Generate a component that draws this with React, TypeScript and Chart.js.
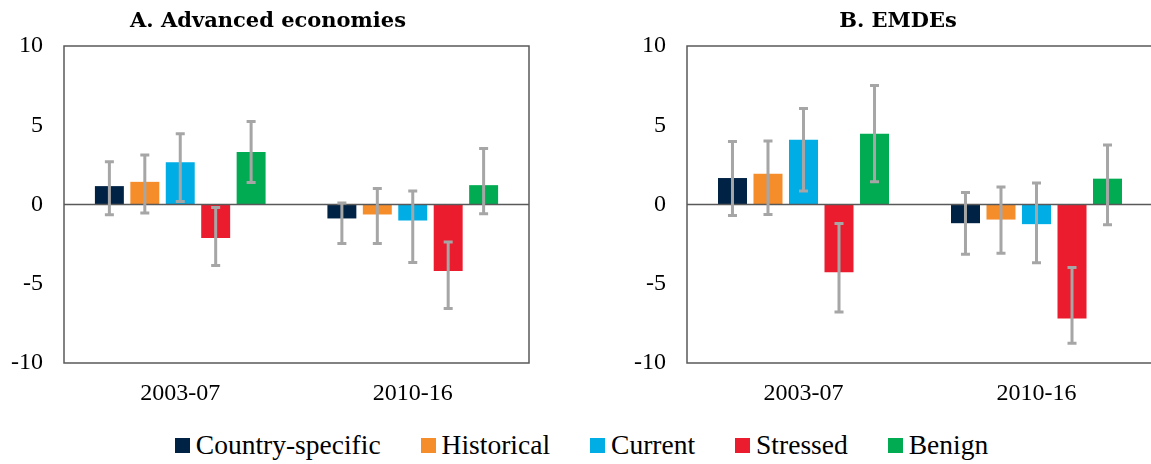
import React, { useEffect, useRef } from "react";
import { Chart, registerables } from "chart.js";

Chart.register(...registerables);

// ---------- DATA ----------
const categories = ["2003-07", "2010-16"];
const seriesNames = ["Country-specific", "Historical", "Current", "Stressed", "Benign"];
const seriesColors = ["#002345", "#F68D2B", "#00ADE4", "#EB1C2D", "#00AB51"];
const yTicks = [-10, -5, 0, 5, 10];

// Panel A: Advanced economies
const aCountry = [1.16, -0.88];
const aCountryLo = [-0.65, -2.46];
const aCountryHi = [2.69, 0.1];
const aHistorical = [1.43, -0.63];
const aHistoricalLo = [-0.54, -2.46];
const aHistoricalHi = [3.13, 1.01];
const aCurrent = [2.67, -1.01];
const aCurrentLo = [0.19, -3.66];
const aCurrentHi = [4.46, 0.85];
const aStressed = [-2.12, -4.2];
const aStressedLo = [-3.85, -6.56];
const aStressedHi = [-0.19, -2.37];
const aBenign = [3.32, 1.22];
const aBenignLo = [1.39, -0.59];
const aBenignHi = [5.24, 3.53];

// Panel B: EMDEs
const bCountry = [1.67, -1.18];
const bCountryLo = [-0.7, -3.14];
const bCountryHi = [3.97, 0.76];
const bHistorical = [1.94, -0.95];
const bHistoricalLo = [-0.63, -3.08];
const bHistoricalHi = [4.01, 1.1];
const bCurrent = [4.08, -1.24];
const bCurrentLo = [0.85, -3.67];
const bCurrentHi = [6.06, 1.35];
const bStressed = [-4.28, -7.2];
const bStressedLo = [-6.79, -8.76];
const bStressedHi = [-1.2, -3.98];
const bBenign = [4.47, 1.63];
const bBenignLo = [1.44, -1.27];
const bBenignHi = [7.51, 3.76];

const panelA = {
  title: "A. Advanced economies",
  values: [aCountry, aHistorical, aCurrent, aStressed, aBenign],
  lows: [aCountryLo, aHistoricalLo, aCurrentLo, aStressedLo, aBenignLo],
  highs: [aCountryHi, aHistoricalHi, aCurrentHi, aStressedHi, aBenignHi],
};
const panelB = {
  title: "B. EMDEs",
  values: [bCountry, bHistorical, bCurrent, bStressed, bBenign],
  lows: [bCountryLo, bHistoricalLo, bCurrentLo, bStressedLo, bBenignLo],
  highs: [bCountryHi, bHistoricalHi, bCurrentHi, bStressedHi, bBenignHi],
};

const AXIS_COLOR = "#595959";
const ERR_COLOR = "#A6A6A6";
const SERIF = "'Liberation Serif', 'Times New Roman', serif";

const overlayPlugin = {
  id: "overlay",
  afterDraw(chart: any, _args: any, opts: any) {
    const ctx = chart.ctx;
    ctx.save();
    ctx.fillStyle = "#000";
    ctx.font = "bold 21px 'DejaVu Serif', serif";
    ctx.textAlign = "center";
    ctx.textBaseline = "alphabetic";
    ctx.fillText(opts.title, opts.titleX, 27);
    ctx.restore();
  },
  afterDatasetsDraw(chart: any, _args: any, opts: any) {
    const { ctx, chartArea } = chart;
    const y = chart.scales.y;
    ctx.save();
    // zero line
    const y0 = y.getPixelForValue(0);
    ctx.strokeStyle = AXIS_COLOR;
    ctx.lineWidth = 1.5;
    ctx.beginPath();
    ctx.moveTo(chartArea.left, y0);
    ctx.lineTo(chartArea.right, y0);
    ctx.stroke();
    // error bars
    ctx.strokeStyle = ERR_COLOR;
    ctx.lineWidth = 3;
    const lows = opts.lows as number[][];
    const highs = opts.highs as number[][];
    chart.data.datasets.forEach((_ds: any, di: number) => {
      const meta = chart.getDatasetMeta(di);
      meta.data.forEach((el: any, i: number) => {
        const x = el.x;
        const yl = y.getPixelForValue(lows[di][i]);
        const yh = y.getPixelForValue(highs[di][i]);
        ctx.beginPath();
        ctx.moveTo(x, yl);
        ctx.lineTo(x, yh);
        ctx.moveTo(x - 4.5, yl);
        ctx.lineTo(x + 4.5, yl);
        ctx.moveTo(x - 4.5, yh);
        ctx.lineTo(x + 4.5, yh);
        ctx.stroke();
      });
    });
    // frame
    ctx.strokeStyle = AXIS_COLOR;
    ctx.lineWidth = 1.5;
    ctx.strokeRect(
      chartArea.left,
      chartArea.top,
      chartArea.right - chartArea.left,
      chartArea.bottom - chartArea.top
    );
    ctx.restore();
  },
};

function Panel(props: { panel: typeof panelA; left: number; width: number; titleX: number }) {
  const ref = useRef<HTMLCanvasElement | null>(null);
  const { panel, left, width, titleX } = props;
  useEffect(() => {
    if (!ref.current) return;
    const chart = new Chart(ref.current, {
      type: "bar",
      data: {
        labels: categories,
        datasets: seriesNames.map((name, i) => ({
          label: name,
          data: panel.values[i],
          backgroundColor: seriesColors[i],
          borderWidth: 0,
          categoryPercentage: 0.762,
          barPercentage: 0.817,
        })),
      },
      options: {
        animation: false,
        responsive: false,
        maintainAspectRatio: false,
        layout: { padding: { left: 0, right: 2, top: 46, bottom: 0 } },
        plugins: {
          legend: { display: false },
          tooltip: { enabled: false },
          title: { display: false },
          overlay: { lows: panel.lows, highs: panel.highs, title: panel.title, titleX },
        } as any,
        scales: {
          x: {
            grid: { display: false, drawTicks: false },
            border: { display: false },
            ticks: {
              color: "#000",
              font: { family: SERIF, size: 24 },
              padding: 16,
              maxRotation: 0,
            },
            afterFit: (s: any) => {
              s.height = 47;
            },
          },
          y: {
            min: -10,
            max: 10,
            afterBuildTicks: (s: any) => {
              s.ticks = yTicks.map((v) => ({ value: v }));
            },
            grid: { display: false, drawTicks: false },
            border: { display: false },
            ticks: {
              color: "#000",
              font: { family: SERIF, size: 24 },
              padding: 21,
            },
            afterFit: (s: any) => {
              s.width = 64;
            },
          },
        },
      },
      plugins: [overlayPlugin],
    });
    return () => chart.destroy();
  }, []);
  return (
    <canvas
      ref={ref}
      width={width}
      height={410}
      style={{ position: "absolute", left, top: 0, width, height: 410 }}
    />
  );
}

export default function App() {
  return (
    <div
      style={{
        position: "fixed",
        left: 0,
        top: 0,
        width: 1151,
        height: 464,
        overflow: "hidden",
        background: "#fff",
      }}
    >
      <Panel panel={panelA} left={0} width={531} titleX={268} />
      <Panel panel={panelB} left={623} width={532} titleX={898 - 623} />
      <div
        style={{
          position: "absolute",
          left: 6,
          top: 430,
          width: 1151,
          height: 30,
          display: "flex",
          justifyContent: "center",
          alignItems: "center",
          fontFamily: SERIF,
          fontSize: 27.5,
          lineHeight: "30px",
          color: "#000",
          gap: 40,
        }}
      >
        {seriesNames.map((name, i) => (
          <div key={name} style={{ display: "flex", alignItems: "center", gap: 6 }}>
            <span
              style={{ display: "inline-block", width: 15, height: 15, background: seriesColors[i] }}
            />
            <span>{name}</span>
          </div>
        ))}
      </div>
    </div>
  );
}
